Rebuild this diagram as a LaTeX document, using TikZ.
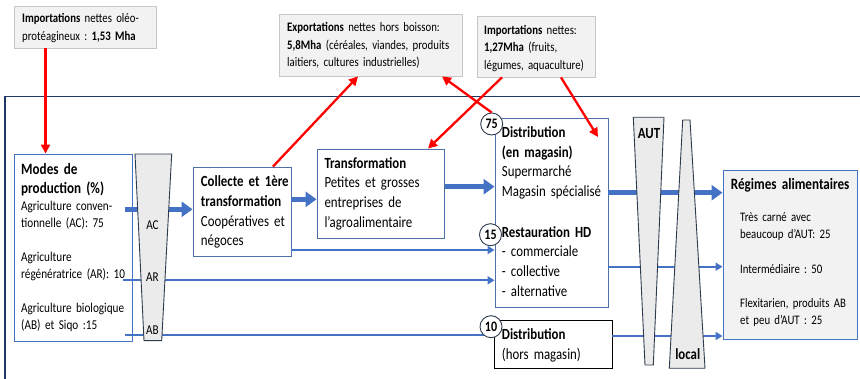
\documentclass[tikz,border=0pt]{standalone}
\usepackage{fontspec}
\setmainfont{Carlito}[FakeStretch=0.83,WordSpace=0.85]
\usetikzlibrary{arrows.meta,fit}
\definecolor{bl}{HTML}{4472C4}
\definecolor{rd}{HTML}{FF0000}
\definecolor{navy}{HTML}{1F3864}
\definecolor{lg}{HTML}{F2F2F2}
\definecolor{fun}{HTML}{EBEBEB}
\definecolor{fb}{HTML}{2E3B4E}
\definecolor{bbor}{HTML}{4F6FA8}
\begin{document}
\frenchspacing
\begin{tikzpicture}[x=1pt,y=-1pt,
  every node/.append style={execute at begin node=\frenchspacing},
  gbox/.style={draw=black!22, fill=lg, line width=0.8pt, inner sep=0pt},
  bbox/.style={draw=bl, fill=white, line width=0.9pt, inner sep=0pt},
  nbox/.style={draw=bbor, fill=white, line width=0.9pt, inner sep=0pt},
  kbox/.style={draw=black, fill=white, line width=0.9pt, inner sep=0pt},
  rbox/.style={draw=bl, fill=lg, line width=0.9pt, inner sep=0pt},
  tx/.style={anchor=base west, inner sep=0pt, text width=230pt, align=left},
  small/.style={font=\fontsize{13}{17.3}\selectfont},
  body/.style={font=\fontsize{13.5}{17}\selectfont},
  big/.style={font=\fontsize{15.5}{19.6}\selectfont},
  ttl/.style={font=\bfseries\fontsize{15.8}{18.5}\selectfont},
  thick arrow/.style={draw=bl, line width=5pt, -{Triangle[length=11pt,width=15pt]}},
  thin arrow/.style={draw=bl, line width=2.3pt, -{Triangle[length=7pt,width=8pt]}},
  thin line/.style={draw=bl, line width=2.3pt},
  red arrow/.style={draw=rd, line width=2.3pt, -{Triangle[length=9pt,width=9pt]}},
  funnel/.style={fill=fun, draw=fb, line width=0.9pt},
  num/.style={circle, draw=fb, fill=white, line width=0.9pt, minimum size=22pt, inner sep=0pt, font=\bfseries\fontsize{14.5}{15}\selectfont},
  flab/.style={inner sep=0pt, anchor=base},
]
\useasboundingbox (0,0) rectangle (860,379);

% frame
\draw[navy, line width=1.1pt] (860,96.7) -- (5,96.7) -- (5,379);

% boxes
\node[gbox, fit={(14,6)(156,48)}] (imp1) {};
\node[gbox, fit={(279,14)(462,76)}] (exp) {};
\node[gbox, fit={(477,16)(595,77)}] (imp2) {};
\node[bbox, fit={(14,154)(132,341)}] (modes) {};
\node[nbox, fit={(193,167)(291,256.5)}] (coll) {};
\node[nbox, fit={(317,149)(444.5,238)}] (trans) {};
\node[nbox, fit={(495,118.5)(608,307.5)}] (dist) {};
\node[kbox, fit={(494.5,320)(612,368)}] (hors) {};
\node[rbox, fit={(723,170)(857,339)}] (reg) {};

% texts
\node[tx, small] (t1) at (22,22.8) {\textbf{Importations} nettes oléo-\\protéagineux : \textbf{1,53 Mha}};
\node[tx, small] (t2) at (287,32) {\textbf{Exportations} nettes hors boisson:\\\textbf{5,8Mha} (céréales, viandes, produits\\laitiers, cultures industrielles)};
\node[tx, small] (t3) at (484,34.5) {\textbf{Importations} nettes:\\\textbf{1,27Mha} (fruits,\\légumes, aquaculture)};
\node[tx, ttl] (tm) at (21,175) {Modes de\\production (\%)};
\node[tx, body] (tm1) at (21,211) {Agriculture conven-\\tionnelle (AC): 75};
\node[tx, body] (tm2) at (21,262) {Agriculture\\régénératrice (AR): 10};
\node[tx, body] (tm3) at (21,313) {Agriculture biologique\\(AB) et Siqo :15};
\node[tx, big] (tc) at (200.7,187) {\textbf{Collecte et 1ère}\\\textbf{transformation}\\Coopératives et\\négoces};
\node[tx, big] (tt) at (324.3,168.3) {\textbf{Transformation}\\Petites et grosses\\entreprises de\\l’agroalimentaire};
\node[tx, big] (td) at (501.7,137.5) {\textbf{Distribution}\\\textbf{(en magasin)}\\Supermarché\\Magasin spécialisé};
\node[tx, big] (tr) at (501.7,237.3) {\textbf{Restauration HD}\\- commerciale\\- collective\\- alternative};
\node[tx, big] (th) at (501.7,340) {\textbf{Distribution}\\(hors magasin)};
\node[tx, ttl] (tg) at (730.7,189.3) {Régimes alimentaires};
\node[tx, small] (tg1) at (740,221.7) {Très carné avec\\beaucoup d’AUT: 25};
\node[tx, small] (tg2) at (740,273.3) {Intermédiaire : 50};
\node[tx, small] (tg3) at (740,307.3) {Flexitarien, produits AB\\et peu d’AUT : 25};

% blue flows
\coordinate (ac) at (125,209.3);
\coordinate (ar) at (122.7,280.3);
\coordinate (ab) at (125,334.8);
\draw[thick arrow] (ac) -- (coll.west |- ac);
\draw[thick arrow] (coll.east |- 0,199.3) -- (trans.west |- 0,199.3);
\draw[thick arrow] (trans.east |- 0,186.7) -- (dist.west |- 0,186.7);
\draw[thin arrow] (coll.east |- 0,250) -- (dist.west |- 0,250);
\draw[thin arrow] (ar) -- (dist.west |- ar);
\draw[thin line] (ab) -- (hors.west |- ab);
\draw[thick arrow] (dist.east |- 0,192.7) -- (reg.west |- 0,192.7);
\draw[thin arrow] (dist.east |- 0,266.7) -- (reg.west |- 0,266.7);
\draw[thin arrow] (hors.east |- 0,336) -- (reg.west |- 0,336);

% funnels
\path[funnel] (135,154) -- (171.7,154) -- (161.7,340.7) -- (144,340.7) -- cycle;
\node[flab, font=\fontsize{13.5}{15}\selectfont] (fac) at (152.5,229.5) {AC};
\node[flab, font=\fontsize{13.5}{15}\selectfont] (far) at (152.5,281.3) {AR};
\node[flab, font=\fontsize{13.5}{15}\selectfont] (fab) at (152.5,335) {AB};
\path[funnel] (633.3,117.3) -- (664,117.3) -- (653.3,365) -- (645,365) -- cycle;
\path[funnel] (682.7,120) -- (690,120) -- (705,368.3) -- (669.3,368.3) -- cycle;
\node[flab, font=\bfseries\fontsize{15.5}{17}\selectfont] (faut) at (649,138.3) {AUT};
\node[flab, font=\bfseries\fontsize{15.5}{17}\selectfont] (floc) at (687.7,360) {local};

% numbers
\node[num] (c75) at (491.7,124) {75};
\node[num] (c15) at (490.5,234.7) {15};
\node[num] (c10) at (491,326.7) {10};

% red arrows
\coordinate (dt) at (598,137);
\draw[red arrow] (imp1.south -| 45.5,0) -- (modes.north -| 45.5,0);
\draw[red arrow] (coll.north -| 273,0) -- (exp.south -| 358,0);
\draw[red arrow] (c75.north) -- (exp.south -| 442,0);
\draw[red arrow] (imp2.south -| 502,0) -- (trans.north -| 428,0);
\draw[red arrow] (imp2.south -| 561,0) -- (dt);
\end{tikzpicture}
\end{document}
